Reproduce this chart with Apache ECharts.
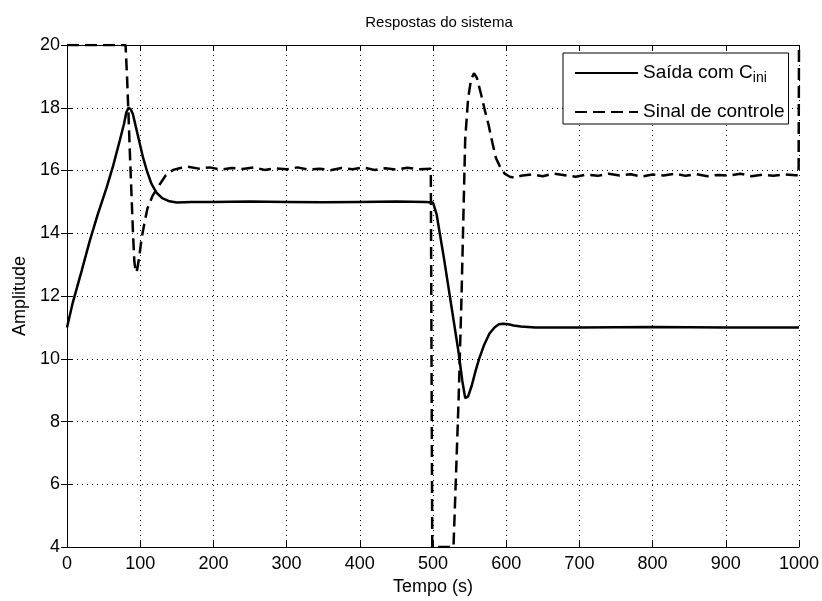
<!DOCTYPE html>
<html>
<head>
<meta charset="utf-8">
<script src="https://cdn.jsdelivr.net/npm/echarts@6/dist/echarts.min.js"></script>
<style>
html,body{margin:0;padding:0;background:#fff;}
#chart{width:822px;height:601px;}
</style>
</head>
<body>
<div id="chart"></div>
<script>
// ---- data ----
const tempoSaida = [0,8,20,31,42,54,63,72,78,81,84,87,90,94,99,104,109,115,122,130,140,150,170,200,250,300,350,400,450,490,500,505,510,515,520,525,530,535,540,544,548,553,558,563,570,577,584,590,596,603,610,620,640,700,800,900,1000];
const valorSaida = [11,11.8,12.8,13.75,14.6,15.45,16.15,16.95,17.5,17.85,18.0,17.95,17.8,17.4,16.9,16.4,16.0,15.6,15.3,15.12,15.02,14.98,15.0,15.0,15.01,15.0,14.99,15.0,15.01,15.0,14.98,14.6,13.9,13.2,12.45,11.7,10.95,10.2,9.3,8.75,8.8,9.15,9.6,10.0,10.45,10.8,11.0,11.1,11.12,11.1,11.06,11.03,11.0,11.0,11.01,11.0,11.0];

const tempoControle = [0,80,82,84,86,88,90,92,94,96,99,102,106,110,117,125,135,145,155,165,180,195,210,225,240,255,270,285,300,315,330,345,360,375,390,405,420,435,450,465,480,497,499,528,531,535,539,544,548,552,556,560,566,571,576,581,586,592,598,605,612,620,635,650,665,680,695,710,725,740,755,770,785,800,815,830,845,860,875,890,905,920,935,950,965,980,995,999.5,1000];
const valorControle = [20,20,19.0,17.8,16.5,15.3,14.1,13.1,12.75,12.85,13.3,13.85,14.35,14.8,15.2,15.5,15.85,16.02,16.08,16.12,16.06,16.1,16.03,16.08,16.05,16.1,16.02,16.07,16.04,16.1,16.03,16.06,16.01,16.08,16.04,16.1,16.02,16.07,16.03,16.09,16.04,16.06,4,4,6.0,8.7,12.0,17.0,18.3,18.9,19.1,18.95,18.4,17.9,17.45,16.9,16.4,16.1,15.9,15.8,15.77,15.83,15.88,15.82,15.9,15.85,15.8,15.87,15.83,15.9,15.84,15.88,15.81,15.87,15.84,15.9,15.83,15.88,15.82,15.86,15.84,15.9,15.82,15.87,15.83,15.88,15.85,15.85,20];

const xTicks = [0,100,200,300,400,500,600,700,800,900,1000];
const yTicks = [4,6,8,10,12,14,16,18,20];

const tituloGrafico = 'Respostas do sistema';
const nomeX = 'Tempo (s)';
const nomeY = 'Amplitude';
const nomeSerie1 = 'Saída com C_ini';
const nomeSerie2 = 'Sinal de controle';

// ---- chart ----
const FONT = 'Liberation Sans, Arial, sans-serif';
const pairs = (t, v) => t.map((x, i) => [x, v[i]]);

const gridLine = {show: true, lineStyle: {color: '#000', width: 1, type: [1, 4]}};
const baseAxisLine = {show: true, lineStyle: {color: '#000', width: 1}};

const chart = echarts.init(document.getElementById('chart'), null, {renderer: 'canvas'});
chart.setOption({
  backgroundColor: '#fff',
  animation: false,
  title: {
    text: tituloGrafico,
    left: 434, textAlign: 'center', top: 10,
    textStyle: {fontFamily: FONT, fontSize: 15, fontWeight: 'normal', color: '#000'}
  },
  grid: {left: 67, right: 20, top: 45, bottom: 53, containLabel: false},
  legend: {
    orient: 'vertical',
    left: 563, top: 53,
    padding: [9, 4, 1, 11],
    itemWidth: 63, itemHeight: 14, itemGap: 16,
    backgroundColor: '#fff',
    borderColor: '#000', borderWidth: 1,
    itemStyle: {color: 'rgba(0,0,0,0)', borderWidth: 0, opacity: 0},
    data: [nomeSerie1, nomeSerie2],
    formatter: function (name) {
      if (name === nomeSerie1) return 'Saída com C{sub|ini}';
      return name;
    },
    textStyle: {
      fontFamily: FONT, fontSize: 19, color: '#000', lineHeight: 22,
      rich: {sub: {fontFamily: FONT, fontSize: 14, color: '#000', padding: [10, 0, 0, 0]}}
    }
  },
  xAxis: [{
    type: 'value', min: 0, max: 1000, interval: 100,
    name: nomeX, nameLocation: 'middle', nameGap: 28,
    nameTextStyle: {fontFamily: FONT, fontSize: 18, color: '#000'},
    axisLine: baseAxisLine,
    axisTick: {show: true, inside: true, length: 6, lineStyle: {color: '#000'}},
    axisLabel: {fontFamily: FONT, fontSize: 18, color: '#000', margin: 8,
      formatter: v => xTicks.indexOf(v) >= 0 ? String(v) : ''},
    splitLine: gridLine
  }, {
    type: 'value', min: 0, max: 1000, interval: 100, position: 'top',
    axisLine: baseAxisLine,
    axisTick: {show: true, inside: true, length: 6, lineStyle: {color: '#000'}},
    axisLabel: {show: false}, splitLine: {show: false}
  }],
  yAxis: [{
    type: 'value', min: 4, max: 20, interval: 2,
    name: nomeY, nameLocation: 'middle', nameGap: 38, nameRotate: 90,
    nameTextStyle: {fontFamily: FONT, fontSize: 18, color: '#000'},
    axisLine: baseAxisLine,
    axisTick: {show: true, inside: true, length: 6, lineStyle: {color: '#000'}},
    axisLabel: {fontFamily: FONT, fontSize: 18, color: '#000', margin: 7,
      formatter: v => yTicks.indexOf(v) >= 0 ? String(v) : ''},
    splitLine: gridLine
  }, {
    type: 'value', min: 4, max: 20, interval: 2, position: 'right',
    axisLine: baseAxisLine,
    axisTick: {show: true, inside: true, length: 6, lineStyle: {color: '#000'}},
    axisLabel: {show: false}, splitLine: {show: false}
  }],
  series: [{
    name: nomeSerie1, type: 'line', xAxisIndex: 0, yAxisIndex: 0,
    data: pairs(tempoSaida, valorSaida),
    symbol: 'none', smooth: false, clip: true,
    lineStyle: {color: '#000', width: 2.5, type: 'solid'},
    itemStyle: {color: '#000'}, z: 5
  }, {
    name: nomeSerie2, type: 'line', xAxisIndex: 0, yAxisIndex: 0,
    data: pairs(tempoControle, valorControle),
    symbol: 'none', smooth: false, clip: true,
    lineStyle: {color: '#000', width: 2.5, type: [12, 6]},
    itemStyle: {color: '#000'}, z: 4
  }]
});
</script>
</body>
</html>
